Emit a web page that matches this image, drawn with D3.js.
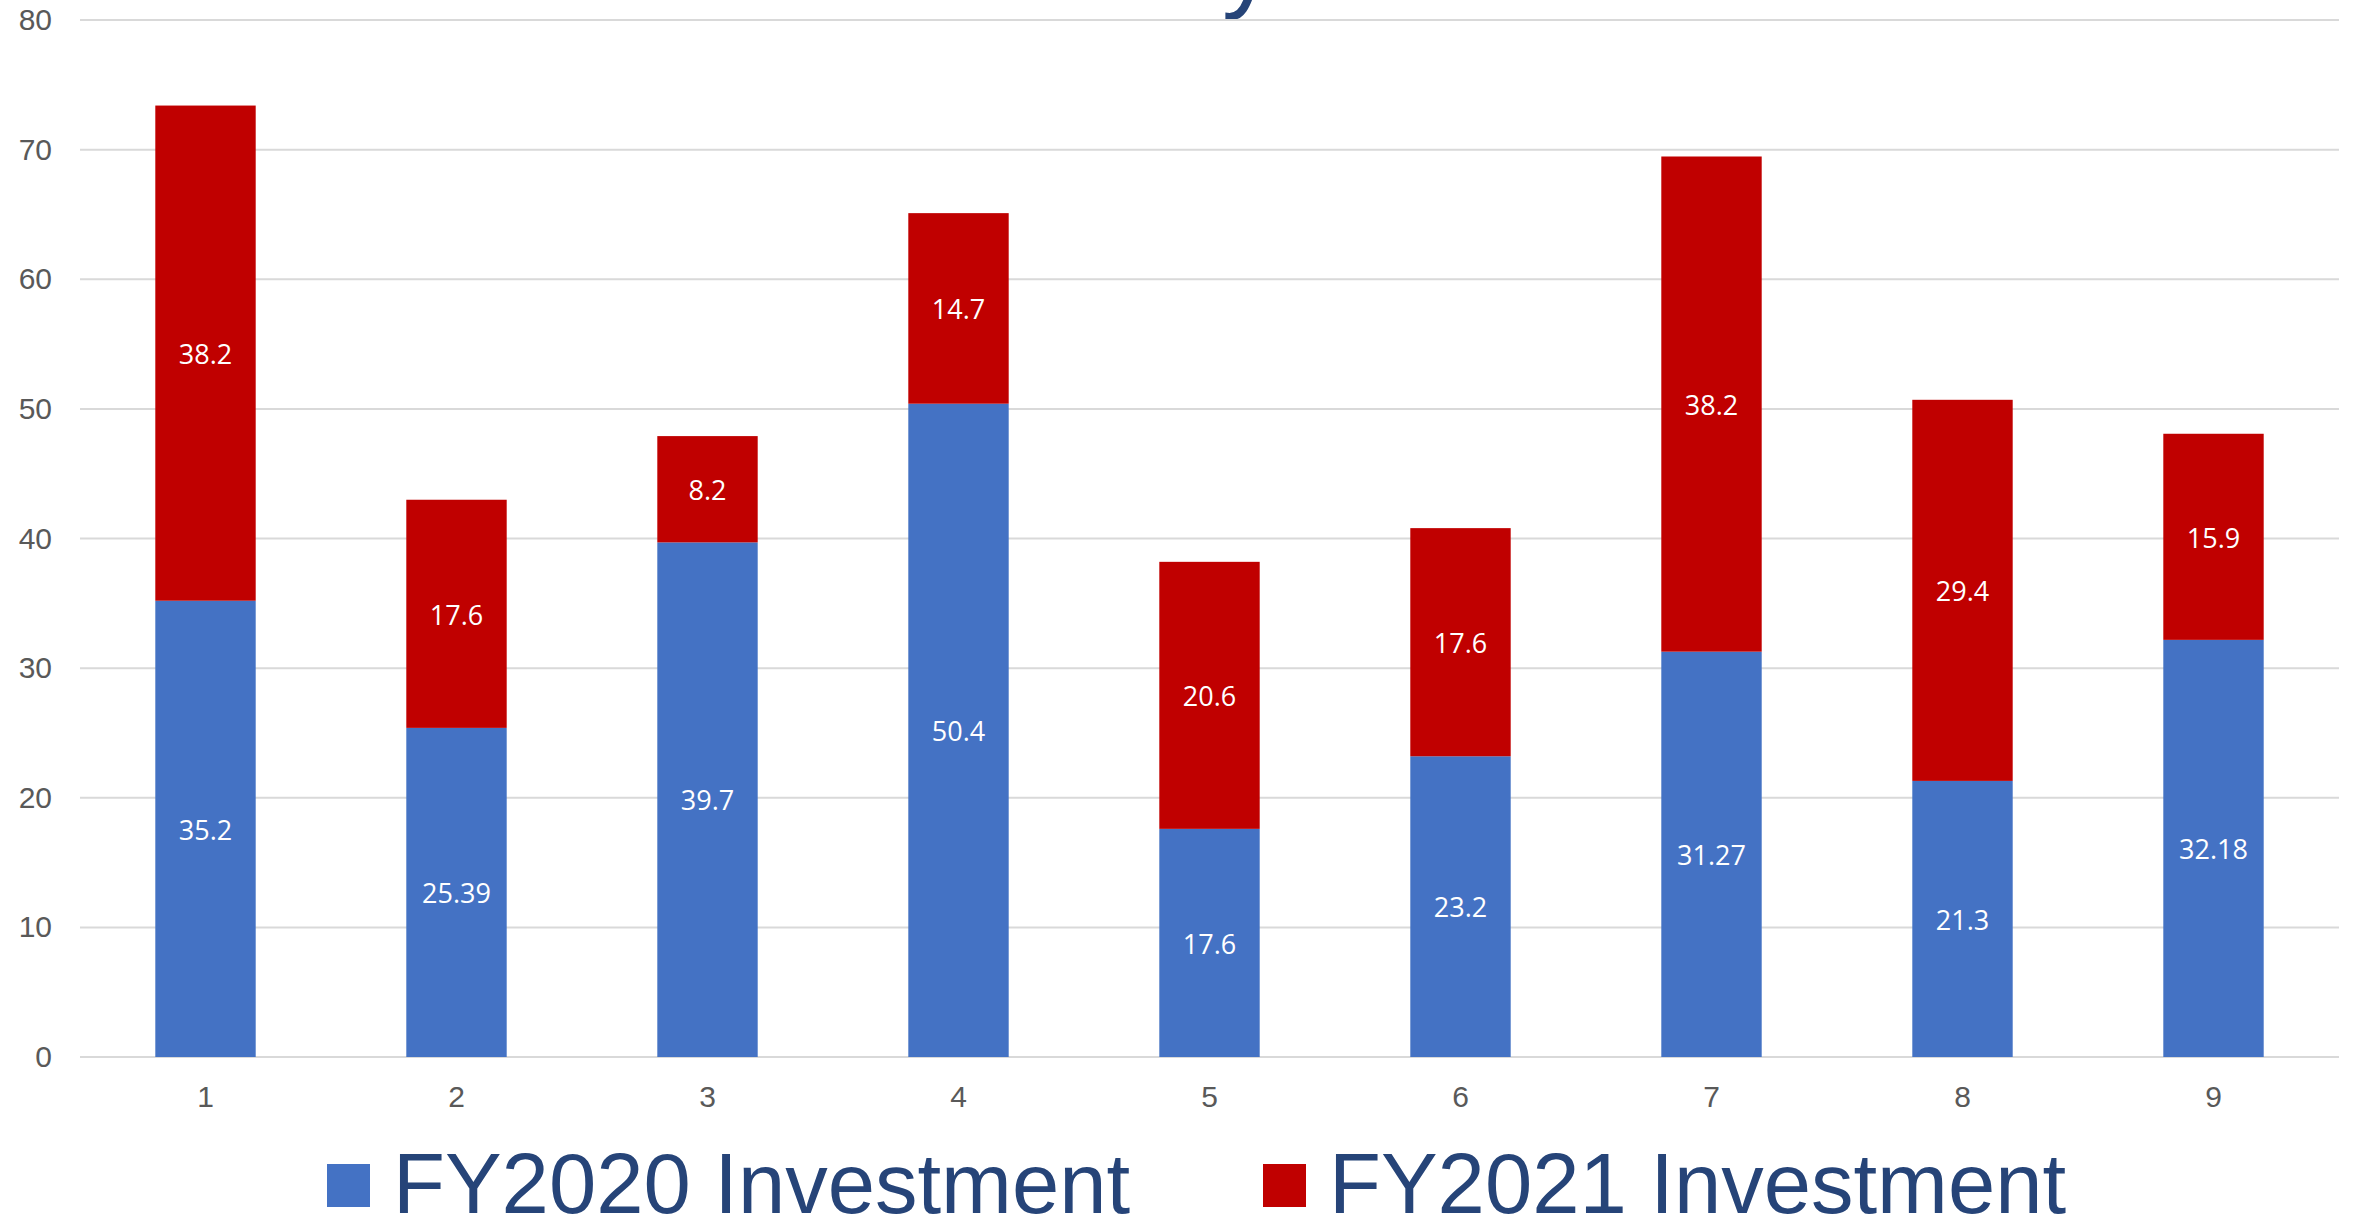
<!DOCTYPE html>
<html>
<head>
    <title>FY2020 / FY2021 Investment</title>
    <script src="https://d3js.org/d3.v7.min.js"></script>
    <style>
        body {
            margin: 0;
            background: #fff;
            font-family: "Liberation Sans", Arial, sans-serif;
        }
        svg { display: block; }
    </style>
</head>
<body>
    <div id="chart"></div>
    <script>
        // Data
        const categories = ["1", "2", "3", "4", "5", "6", "7", "8", "9"];
        const fy2020 = [35.2, 25.39, 39.7, 50.4, 17.6, 23.2, 31.27, 21.3, 32.18];
        const fy2021 = [38.2, 17.6, 8.2, 14.7, 20.6, 17.6, 38.2, 29.4, 15.9];
        const seriesNames = ["FY2020 Investment", "FY2021 Investment"];
        const seriesColors = ["#4472C4", "#C00000"];
        const yTicks = [0, 10, 20, 30, 40, 50, 60, 70, 80];

        const width = 2354, height = 1221;
        const svg = d3.select('#chart').append('svg')
            .attr('width', width)
            .attr('height', height);

        const x = d3.scaleBand()
            .domain(categories)
            .range([80, 2339])
            .paddingInner(0.6)
            .paddingOuter(0.3);

        const y = d3.scaleLinear()
            .domain([0, 80])
            .range([1057, 20]);

        // Title is cut off at the top; only the descender of a "y" shows
        svg.append('text')
            .attr('x', 1222)
            .attr('y', -2)
            .attr('fill', '#264478')
            .style('font-size', '104px')
            .text('y');

        // Gridlines
        svg.append('g')
            .selectAll('line')
            .data(yTicks)
            .join('line')
            .attr('x1', 80)
            .attr('x2', 2339)
            .attr('y1', d => y(d))
            .attr('y2', d => y(d))
            .attr('stroke', '#d9d9d9')
            .attr('stroke-width', 2);

        // Y axis labels
        const yAxis = svg.append('g')
            .attr('transform', 'translate(52,0)')
            .call(d3.axisLeft(y).tickValues(yTicks).tickSize(0).tickPadding(0));
        yAxis.select('.domain').remove();
        yAxis.selectAll('text')
            .attr('fill', '#595959')
            .style('font-family', '"Liberation Sans", Arial, sans-serif')
            .style('font-size', '30px');

        // X axis labels
        const xAxis = svg.append('g')
            .attr('transform', `translate(0,${y(0)})`)
            .call(d3.axisBottom(x).tickSize(0).tickPadding(29));
        xAxis.select('.domain').remove();
        xAxis.selectAll('text')
            .attr('fill', '#595959')
            .style('font-family', '"Liberation Sans", Arial, sans-serif')
            .style('font-size', '30px');

        // Stack the two series
        const rows = categories.map((c, i) => ({cat: c, a: fy2020[i], b: fy2021[i]}));
        const stacked = d3.stack().keys(['a', 'b'])(rows);

        const layers = svg.append('g')
            .selectAll('g')
            .data(stacked)
            .join('g')
            .attr('fill', (d, i) => seriesColors[i]);

        layers.selectAll('rect')
            .data(d => d)
            .join('rect')
            .attr('x', d => x(d.data.cat))
            .attr('width', x.bandwidth())
            .attr('y', d => y(d[1]))
            .attr('height', d => y(d[0]) - y(d[1]));

        // Value labels
        layers.selectAll('text')
            .data(d => d.map(p => ({p: p, key: d.key})))
            .join('text')
            .attr('x', d => x(d.p.data.cat) + x.bandwidth() / 2)
            .attr('y', d => (y(d.p[0]) + y(d.p[1])) / 2)
            .attr('dy', '0.4em')
            .attr('text-anchor', 'middle')
            .attr('fill', '#fff')
            .style('font-family', '"Open Sans", sans-serif')
            .style('font-size', '27px')
            .text(d => d.p.data[d.key]);

        // Legend
        const legendX = [327, 1263];
        const legend = svg.append('g')
            .selectAll('g')
            .data(seriesNames)
            .join('g')
            .attr('transform', (d, i) => `translate(${legendX[i]},0)`);
        legend.append('rect')
            .attr('x', 0)
            .attr('y', 1164)
            .attr('width', 43)
            .attr('height', 43)
            .attr('fill', (d, i) => seriesColors[i]);
        legend.append('text')
            .attr('x', 66)
            .attr('y', 1213)
            .attr('fill', '#264478')
            .style('font-family', '"Liberation Sans", Arial, sans-serif')
            .style('font-size', '85px')
            .text(d => d);
    </script>
</body>
</html>
